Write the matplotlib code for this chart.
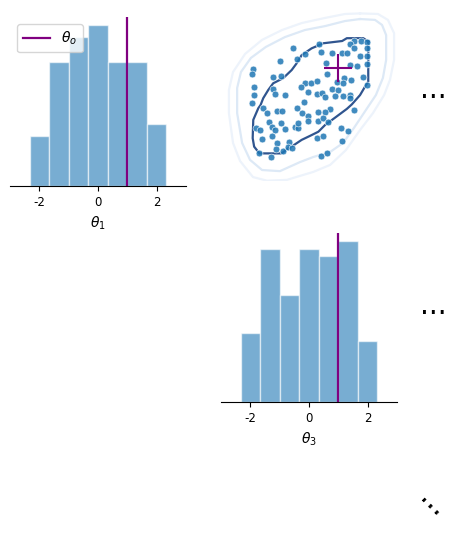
import numpy as np
import matplotlib
matplotlib.use("Agg")
import matplotlib.pyplot as plt

plt.rcParams["axes.unicode_minus"] = False

W, H = 460, 535

# marginal histograms
bin_edges = [-2.33, -1.67, -1.0, -0.33, 0.33, 1.0, 1.67, 2.33]
theta1_counts = [4, 10, 12, 13, 10, 10, 5]
theta3_counts = [9, 20, 14, 20, 19, 21, 8]
theta_o = [1.0, 1.0, 1.0]

# samples shown in the theta2 / theta1 panel
samples_t2 = [-0.54, -0.14, -0.42, -0.99, 0.35, -1.90, -1.95, -1.22, -0.96, -0.14,
              0.07, 0.28, -0.27, -1.22, -1.16, -0.82, -0.02, 0.26, -1.86, -1.88,
              -1.95, -0.17, 0.40, 0.77, 1.14, 1.31, 1.54, 1.76, 1.97, 1.40,
              1.54, 1.97, 1.74, 1.97, 0.58, 1.40, 1.63, 1.99, 0.60, 1.20,
              1.42, 1.85, 0.94, 1.15, 0.77, 1.00, 0.43, 0.55, 0.89, 1.17,
              1.40, 1.97, -1.56, -1.44, -1.10, -0.93, -1.35, -1.27, -0.96, -1.16,
              -0.82, -0.48, -0.36, -0.42, -0.25, -0.03, -0.05, 0.30, -1.81, -1.67,
              -1.61, -1.27, -1.08, -0.67, -1.13, -0.88, -0.71, -0.57, -1.69, -1.31,
              0.28, 0.40, 0.60, 1.40, 1.54, 0.72, 0.55, 0.47, 1.09, 1.34,
              1.14, 0.47, -0.36, 0.32, 0.66]
samples_t1 = [1.71, 1.51, 1.32, 1.26, 1.85, 0.98, 0.79, 0.69, 0.73, 0.48,
              0.47, 0.55, 0.35, 0.27, 0.08, 0.05, 0.16, 0.09, 0.35, 0.05,
              -0.24, -0.21, 1.57, 1.53, 1.53, 1.53, 1.97, 1.97, 1.95, 1.85,
              1.71, 1.71, 1.45, 1.45, 1.19, 1.12, 1.09, 1.14, 0.79, 0.67,
              0.59, 0.70, 0.53, 0.49, 0.27, 0.23, 0.11, -0.01, 0.02, 0.02,
              0.05, 0.41, -0.42, -0.60, -0.51, -0.51, -0.89, -1.07, -0.95, -1.19,
              -1.15, -1.07, -1.13, -0.42, -0.60, -0.69, -0.87, -0.87, -1.11, -1.19,
              -1.51, -1.39, -1.66, -1.60, -1.87, -1.92, -1.78, -1.84, -2.02, -2.14,
              -1.48, -2.11, -2.02, -0.06, -0.48, -0.44, -0.56, -0.75, -1.13, -1.22,
              -1.58, -1.39, -0.95, -0.54, -0.89]

# contour outlines of the 2d density, inner to outer
c68_t2 = [2.02, 1.85, 1.29, 1.13, 0.49, 0.09, -0.25, -0.42, -0.59, -0.88, -1.22,
          -1.39, -1.56, -1.65, -1.73, -1.90, -1.92, -1.87, -1.69, -0.93, -0.71,
          -0.48, -0.25, 0.03, 0.32, 0.55, 0.89, 1.29, 1.46, 1.74, 1.91, 2.02, 2.02]
c68_t1 = [1.95, 2.07, 2.07, 1.97, 1.89, 1.71, 1.47, 1.18, 0.94, 0.65, 0.47,
          0.23, -0.06, -0.30, -0.42, -0.83, -1.48, -1.78, -2.02, -2.02, -1.84,
          -1.70, -1.54, -1.40, -1.25, -1.01, -0.75, -0.44, -0.28, 0.05, 0.35, 0.53, 1.95]
c95_t2 = [1.74, 2.25, 2.49, 2.63, 2.63, 2.52, 2.28, 1.94, 1.53, 1.16, 0.72, 0.14,
          -0.31, -0.99, -1.60, -2.01, -2.28, -2.45, -2.45, -2.32, -1.98, -1.47,
          -0.82, -0.14, 0.55, 1.23, 1.74]
c95_t1 = [2.75, 2.72, 2.54, 2.18, 1.30, 0.66, 0.05, -0.48, -1.12, -1.65, -1.97, -2.15,
          -2.33, -2.65, -2.61, -2.25, -1.65, -0.59, 0.30, 0.87, 1.37, 1.76,
          2.11, 2.36, 2.50, 2.68, 2.75]
c99_t2 = [1.74, 2.35, 2.69, 2.90, 2.90, 2.76, 2.56, 2.18, 1.74, 1.26, 0.72, 0.14,
          -0.31, -0.75, -1.43, -1.91, -2.35, -2.59, -2.73, -2.73, -2.59, -2.18,
          -1.60, -0.92, -0.24, 0.55, 1.23, 1.74]
c99_t1 = [2.95, 2.93, 2.72, 2.25, 1.30, 0.59, 0.05, -0.59, -1.19, -1.90, -2.43, -2.68,
          -2.82, -2.96, -2.99, -2.86, -2.29, -1.65, -0.59, 0.23, 0.87, 1.51,
          2.01, 2.36, 2.61, 2.79, 2.93, 2.95]


def px_axes(fig, x0, y0, x1, y1):
    return fig.add_axes([x0 / W, 1 - y1 / H, (x1 - x0) / W, (y1 - y0) / H])


def draw_hist(ax, counts, truth, label):
    edges = np.array(bin_edges)
    ax.bar(edges[:-1], counts, width=np.diff(edges), align="edge",
           color="C0", alpha=0.6, edgecolor="white", linewidth=1)
    ax.axvline(truth, color="purple", lw=1.6, label=r"$\theta_o$")
    ax.set_xlim(-3, 3)
    ax.set_xticks([-2, 0, 2])
    ax.set_yticks([])
    for side in ["left", "right", "top"]:
        ax.spines[side].set_visible(False)
    ax.tick_params(labelsize=8.5)
    ax.set_xlabel(label, fontsize=10)


fig = plt.figure(figsize=(W / 100, H / 100), dpi=100)

ax00 = px_axes(fig, 10, 17, 186, 186)
draw_hist(ax00, theta1_counts, theta_o[0], r"$\theta_1$")
ax00.legend(loc="upper left", fontsize=10, handlelength=2.0)

ax01 = px_axes(fig, 221, 12, 397, 181)
ax01.plot(c99_t2, c99_t1, color="#edf3fb", lw=1.6)
ax01.plot(c95_t2, c95_t1, color="#dde9f6", lw=1.6)
ax01.plot(c68_t2, c68_t1, color="#30558f", lw=1.6)
ax01.scatter(samples_t2, samples_t1, s=24, color="C0", alpha=0.85,
             edgecolor="white", linewidth=0.5, zorder=3)
ax01.plot(theta_o[1], theta_o[0], marker="+", ms=20, mew=1.5,
          color="purple", zorder=4)
ax01.set_xlim(-3, 3)
ax01.set_ylim(-3, 3)
ax01.axis("off")

ax11 = px_axes(fig, 221, 233, 397, 402)
draw_hist(ax11, theta3_counts, theta_o[2], r"$\theta_3$")

# skipped dimensions
fig.text(433 / W, 1 - 98 / H, "...", ha="center", va="baseline", fontsize=20)
fig.text(433 / W, 1 - 313.7 / H, "...", ha="center", va="baseline", fontsize=20)
fig.text(427 / W, 1 - 509.7 / H, "...", ha="center", va="baseline", fontsize=20,
         rotation=-45, rotation_mode="anchor")

fig.savefig("out.png", dpi=100)
